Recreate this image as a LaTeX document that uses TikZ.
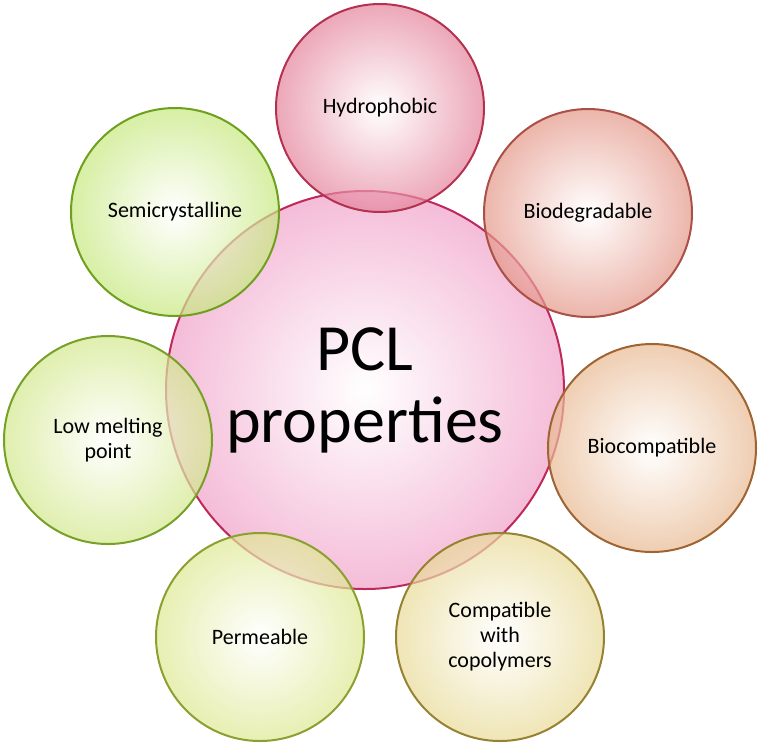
\documentclass[tikz,border=0pt]{standalone}
\usepackage{fontspec}
\setmainfont{Carlito}
\begin{document}
\begin{tikzpicture}[x=1pt,y=-1pt,
  bub/.style={circle,draw,line width=2pt,shade,inner color=white,fill opacity=0.7,text opacity=1,align=center,font=\fontsize{22}{25}\selectfont},
  sat/.style={bub,minimum size=208pt}]
\useasboundingbox (0,0) rectangle (762,748);
\node[bub,minimum size=398pt,draw={rgb,255:red,190;green,40;blue,90},outer color={rgb,255:red,240;green,160;blue,200},font=\fontsize{66}{72}\selectfont] (c) at (365,390) {PCL\\properties};
\node[sat,draw={rgb,255:red,180;green,50;blue,80},outer color={rgb,255:red,228;green,130;blue,155}] (h) at (380,108) {Hydrophobic};
\node[sat,draw={rgb,255:red,170;green,80;blue,70},outer color={rgb,255:red,228;green,150;blue,135}] (bd) at (588,213) {Biodegradable};
\node[sat,draw={rgb,255:red,160;green,100;blue,50},outer color={rgb,255:red,232;green,185;blue,145}] (bc) at (652,448) {Biocompatible};
\node[sat,draw={rgb,255:red,150;green,130;blue,50},outer color={rgb,255:red,232;green,218;blue,150}] (cw) at (500,637) {Compatible\\with\\copolymers};
\node[sat,draw={rgb,255:red,140;green,160;blue,50},outer color={rgb,255:red,222;green,232;blue,145}] (pm) at (260,637) {Permeable};
\node[sat,draw={rgb,255:red,120;green,160;blue,40},outer color={rgb,255:red,210;green,232;blue,140}] (lm) at (108,440) {Low melting\\point};
\node[sat,draw={rgb,255:red,110;green,160;blue,30},outer color={rgb,255:red,198;green,232;blue,125}] (sc) at (175,212) {Semicrystalline};
\end{tikzpicture}
\end{document}
